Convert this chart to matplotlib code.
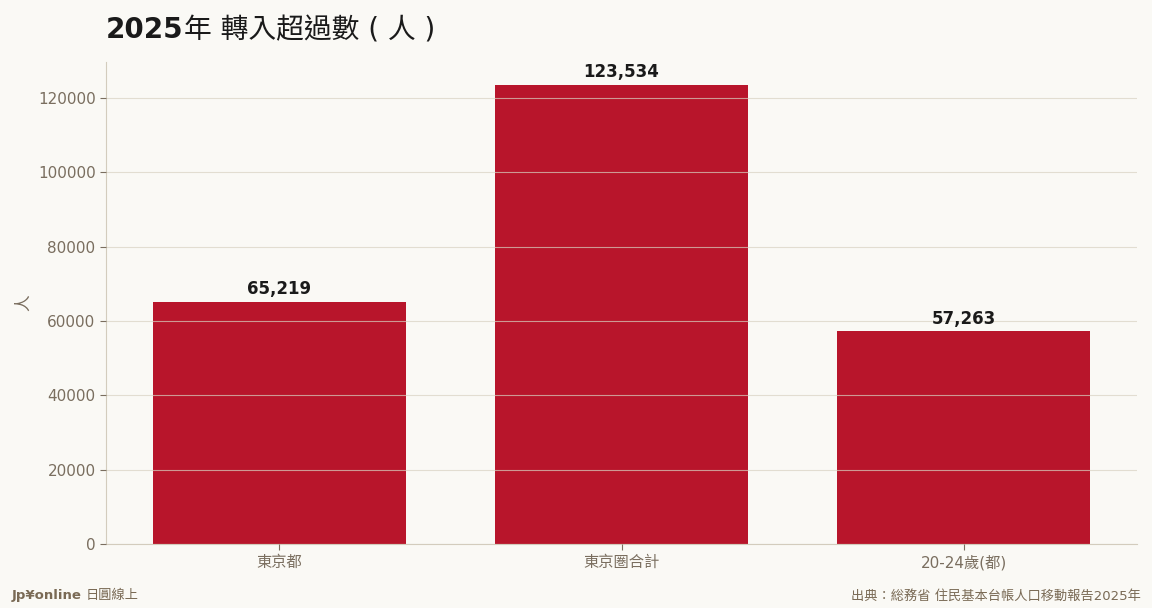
import matplotlib
matplotlib.use("Agg")
import matplotlib.pyplot as plt

plt.rcParams['font.family'] = ['DejaVu Sans', 'Noto Sans CJK TC', 'Noto Sans CJK JP']

categories = ['東京都', '東京圏合計', '20-24歲(都)']
values = [65219, 123534, 57263]

bar_color = '#B8152B'
bg = '#FAF9F5'
tick_color = '#7A6E5F'
grid_color = '#D8D2C2'
spine_color = '#D3CCBD'

fig = plt.figure(figsize=(11.52, 6.08), dpi=100, facecolor=bg)
ax = fig.add_axes([0.092, 0.105, 0.895, 0.793])
ax.set_facecolor(bg)

bars = ax.bar(range(len(categories)), values, width=0.74, color=bar_color, zorder=1)
ax.set_ylim(0, max(values) * 1.05)
ax.set_xticks(range(len(categories)))
ax.set_xticklabels(categories)

for b, v in zip(bars, values):
    ax.text(b.get_x() + b.get_width() / 2, v + 1000, f"{v:,}", ha='center', va='bottom',
            fontsize=12, fontweight='bold', color='#1A1A1A')

ax.grid(axis='y', color=grid_color, linewidth=0.8, alpha=0.7, zorder=2)
ax.set_axisbelow(False)
for s in ['top', 'right']:
    ax.spines[s].set_visible(False)
for s in ['left', 'bottom']:
    ax.spines[s].set_color(spine_color)
ax.tick_params(colors=tick_color, labelsize=11, length=4)
ax.set_ylabel('人', color=tick_color, fontsize=12)

# title: bold year digits, rest regular
t1 = fig.text(0.092, 0.950, '2025', fontsize=20, fontweight='bold',
              color='#1A1A1A', ha='left', va='center')
fig.canvas.draw()
bb = t1.get_window_extent(fig.canvas.get_renderer())
x2 = bb.x1 / fig.bbox.width
fig.text(x2, 0.950, '年 轉入超過數 ( 人 )', fontsize=20, color='#1A1A1A',
         ha='left', va='center')

fig.text(0.010, 0.020, 'Jp¥online', fontsize=9.5, fontweight='bold', color='#7A6A55',
         ha='left', va='center')
fig.text(0.074, 0.020, '日圓線上', fontsize=9.5, color='#7A6A55', ha='left', va='center')
fig.text(0.990, 0.020, '出典：総務省 住民基本台帳人口移動報告2025年', fontsize=9.5,
         color='#7A6A55', ha='right', va='center')

fig.savefig('out.png', dpi=100, facecolor=bg)
